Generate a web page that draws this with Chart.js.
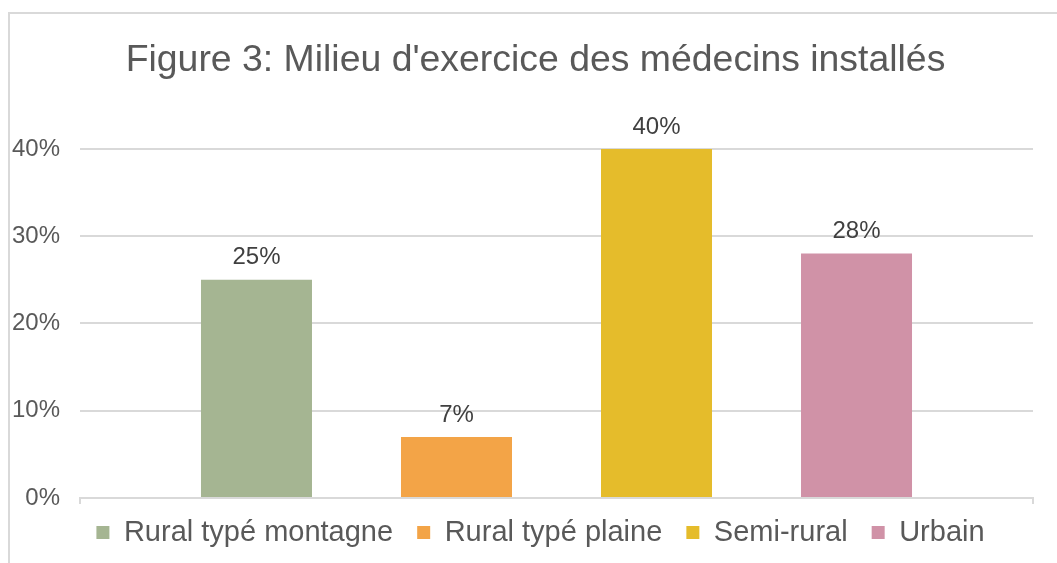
<!DOCTYPE html>
<html>
<head>
<meta charset="utf-8">
<script src="https://cdn.jsdelivr.net/npm/chart.js@4"></script>
<style>
  body { margin: 0; background: #fff; overflow: hidden; }
  #cadre { position: absolute; left: 8px; top: 12px; width: 1100px; height: 600px; border: 2px solid #d9d9d9; }
  #zone { position: absolute; left: 0; top: 0; width: 1057px; height: 563px; }
</style>
</head>
<body>
<div id="cadre"></div>
<div id="zone"><canvas id="grafico"></canvas></div>
<script>
const titre = "Figure 3: Milieu d'exercice des médecins installés";
const milieux = ["Rural typé montagne", "Rural typé plaine", "Semi-rural", "Urbain"];
const pourcentages = [25, 7, 40, 28];
const couleurs = ["#a5b592", "#f3a447", "#e5bc2b", "#d092a7"];
const graduations = [0, 10, 20, 30, 40];

const police = "'Liberation Sans', Arial, sans-serif";

// etiquettes de valeur au dessus des barres
const etiquettes = {
    id: "etiquettes",
    afterDatasetsDraw(chart) {
        let ctx = chart.ctx;
        ctx.save();
        ctx.font = "24px " + police;
        ctx.fillStyle = "#404040";
        ctx.textAlign = "center";
        ctx.textBaseline = "bottom";
        chart.data.datasets.forEach(function(ds, i) {
            chart.getDatasetMeta(i).data.forEach(function(barre, j) {
                ctx.fillText(ds.data[j] + "%", barre.x, barre.y - 10);
            });
        });
        ctx.restore();
    }
};

// decale titre et legende vers la droite comme dans excel
const decalage = {
    id: "decalage",
    afterLayout(chart) {
        if (chart.titleBlock) {
            chart.titleBlock.left += 19;
            chart.titleBlock.right += 19;
        }
        if (chart.legend) {
            chart.legend.left += 24;
            chart.legend.right += 24;
        }
    }
};

let jeux = milieux.map(function(nom, i) {
    return {
        label: nom,
        data: [pourcentages[i]],
        backgroundColor: couleurs[i],
        categoryPercentage: 0.8395,
        barPercentage: 0.555
    };
});

let g = document.getElementById("grafico").getContext("2d");
new Chart(g, {
    type: "bar",
    data: { labels: [""], datasets: jeux },
    plugins: [etiquettes, decalage],
    options: {
        responsive: true,
        maintainAspectRatio: false,
        animation: false,
        layout: { padding: { left: 0, right: 24, top: 14, bottom: 6 } },
        plugins: {
            title: {
                display: true,
                text: titre,
                color: "#595959",
                font: { family: police, size: 37.4, weight: "normal" },
                padding: { top: 24, bottom: 66 }
            },
            legend: {
                position: "bottom",
                labels: {
                    boxWidth: 13,
                    boxHeight: 13,
                    color: "#595959",
                    padding: 16,
                    font: { family: police, size: 29 },
                    // un espace en plus entre les entrees
                    generateLabels: function(chart) {
                        let items = Chart.defaults.plugins.legend.labels.generateLabels(chart);
                        items.forEach(function(it, i) {
                            if (i < items.length - 1) it.text += " ";
                        });
                        return items;
                    }
                }
            },
            tooltip: { enabled: false }
        },
        scales: {
            x: {
                afterFit: function(scale) { scale.height = Math.max(0, scale.height - 2); },
                grid: { display: true, drawOnChartArea: false, color: "#d9d9d9", tickLength: 6, lineWidth: 2 },
                border: { display: true, color: "#d9d9d9", width: 2 },
                ticks: { display: false }
            },
            y: {
                min: 0,
                max: 40,
                afterFit: function(scale) { scale.width = 80; },
                afterBuildTicks: function(scale) {
                    scale.ticks = graduations.map(function(v) { return { value: v }; });
                },
                grid: { color: "#d9d9d9", lineWidth: 2, drawTicks: false },
                border: { display: false },
                ticks: {
                    padding: 20,
                    color: "#595959",
                    font: { family: police, size: 24 },
                    callback: function(v) { return v + "%"; }
                }
            }
        }
    }
});
</script>
</body>
</html>
